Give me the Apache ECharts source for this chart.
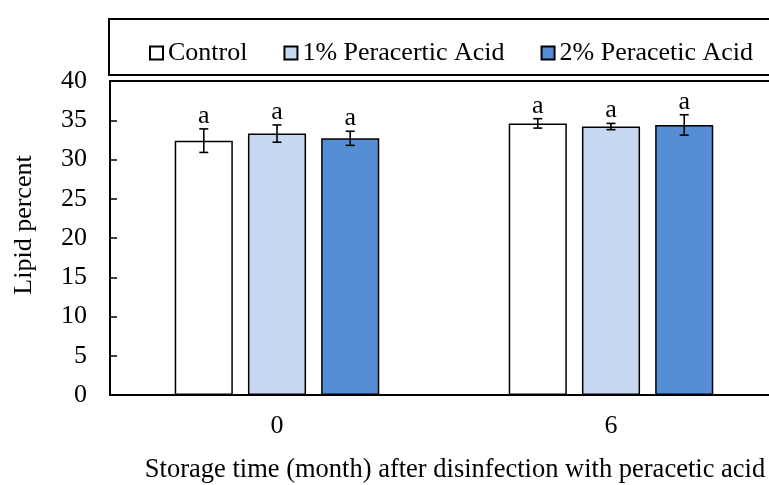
<!DOCTYPE html>
<html>
<head>
<meta charset="utf-8">
<script src="https://cdn.jsdelivr.net/npm/echarts@6/dist/echarts.min.js"></script>
<style>
  html, body { margin: 0; padding: 0; overflow: hidden; background: #fff; }
  #chart { width: 800px; height: 485px; }
</style>
</head>
<body>
<div id="chart"></div>
<script>
// storage time (month)
const categories = ['0', '6'];
const seriesNames = ['Control', '1% Peracertic Acid', '2% Peracetic Acid'];

// lipid percent means and error (±) per series
const controlMean = [32.4, 34.6];
const controlErr = [1.5, 0.6];
const acid1Mean = [33.3, 34.2];
const acid1Err = [1.1, 0.4];
const acid2Mean = [32.7, 34.4];
const acid2Err = [0.9, 1.3];

// significance letters
const controlLetters = ['a', 'a'];
const acid1Letters = ['a', 'a'];
const acid2Letters = ['a', 'a'];

const yTicks = { min: 0, max: 40, interval: 5 };

const colors = ['#ffffff', '#c6d9f0', '#558ed5'];
const font = 'Liberation Serif, Times New Roman, serif';
const fontSize = 26;

const means = [controlMean, acid1Mean, acid2Mean];
const errs = [controlErr, acid1Err, acid2Err];
const letters = [controlLetters, acid1Letters, acid2Letters];

const BAR_FRAC = 0.174;
const GAP_FRAC = 0.26;

let chart = echarts.init(document.getElementById('chart'));

function errorSeries(k) {
  return {
    type: 'custom',
    name: seriesNames[k] + ' err',
    z: 5,
    data: categories.map((c, i) => [i, means[k][i] - errs[k][i], means[k][i] + errs[k][i]]),
    renderItem: function (params, api) {
      let band = api.size([1, 0])[0];
      let bw = band * BAR_FRAC;
      let off = (k - 1) * bw * (1 + GAP_FRAC);
      let lo = api.coord([api.value(0), api.value(1)]);
      let hi = api.coord([api.value(0), api.value(2)]);
      let x = lo[0] + off;
      let cap = 4.5;
      let st = { stroke: '#000', lineWidth: 1.6 };
      return {
        type: 'group',
        children: [
          { type: 'line', shape: { x1: x, y1: lo[1], x2: x, y2: hi[1] }, style: st },
          { type: 'line', shape: { x1: x - cap, y1: lo[1], x2: x + cap, y2: lo[1] }, style: st },
          { type: 'line', shape: { x1: x - cap, y1: hi[1], x2: x + cap, y2: hi[1] }, style: st },
          {
            type: 'text',
            style: {
              x: x, y: hi[1],
              text: letters[k][params.dataIndex],
              fill: '#000',
              font: fontSize + 'px ' + font,
              textAlign: 'center',
              textVerticalAlign: 'bottom'
            }
          }
        ]
      };
    }
  };
}

let barSeries = seriesNames.map((name, k) => ({
  name: name,
  type: 'bar',
  data: means[k],
  barWidth: (BAR_FRAC * 100) + '%',
  barGap: (GAP_FRAC * 100) + '%',
  itemStyle: { color: colors[k], borderColor: '#000', borderWidth: 1.5 }
}));

let option = {
  animation: false,
  textStyle: { fontFamily: font },
  grid: {
    left: 110, top: 81, right: 22, bottom: 90,
    outerBoundsMode: 'none',
    containLabel: false,
    show: true, borderColor: '#000', borderWidth: 2
  },
  legend: {
    data: seriesNames,
    left: 144, top: 35,
    icon: 'rect',
    itemWidth: 13, itemHeight: 13,
    itemGap: 36,
    textStyle: { fontFamily: font, fontSize: fontSize, color: '#000' }
  },
  graphic: [{
    type: 'rect',
    shape: { x: 109, y: 19, width: 700, height: 56 },
    style: { fill: 'none', stroke: '#000', lineWidth: 2 },
    z: -1
  }],
  xAxis: {
    type: 'category',
    data: categories,
    axisLine: { lineStyle: { color: '#000', width: 2 } },
    axisTick: { inside: true, length: 6, lineStyle: { color: '#000', width: 1.5 } },
    axisLabel: { fontFamily: font, fontSize: fontSize, color: '#000', margin: 18 },
    name: 'Storage time (month) after disinfection with peracetic acid',
    nameLocation: 'middle',
    nameGap: 62,
    nameTextStyle: { fontFamily: font, fontSize: 26.5, color: '#000', padding: [0, 0, 0, 22] }
  },
  yAxis: {
    type: 'value',
    min: yTicks.min, max: yTicks.max, interval: yTicks.interval,
    splitLine: { show: false },
    axisLine: { show: true, lineStyle: { color: '#000', width: 2 } },
    axisTick: { show: true, inside: true, length: 7, lineStyle: { color: '#000', width: 1.5 } },
    axisLabel: { fontFamily: font, fontSize: fontSize, color: '#000', margin: 23 },
    name: 'Lipid percent',
    nameLocation: 'middle',
    nameGap: 73,
    nameTextStyle: { fontFamily: font, fontSize: fontSize, color: '#000', padding: [0, 0, 0, 26] }
  },
  series: barSeries.concat([errorSeries(0), errorSeries(1), errorSeries(2)])
};

chart.setOption(option);
</script>
</body>
</html>
